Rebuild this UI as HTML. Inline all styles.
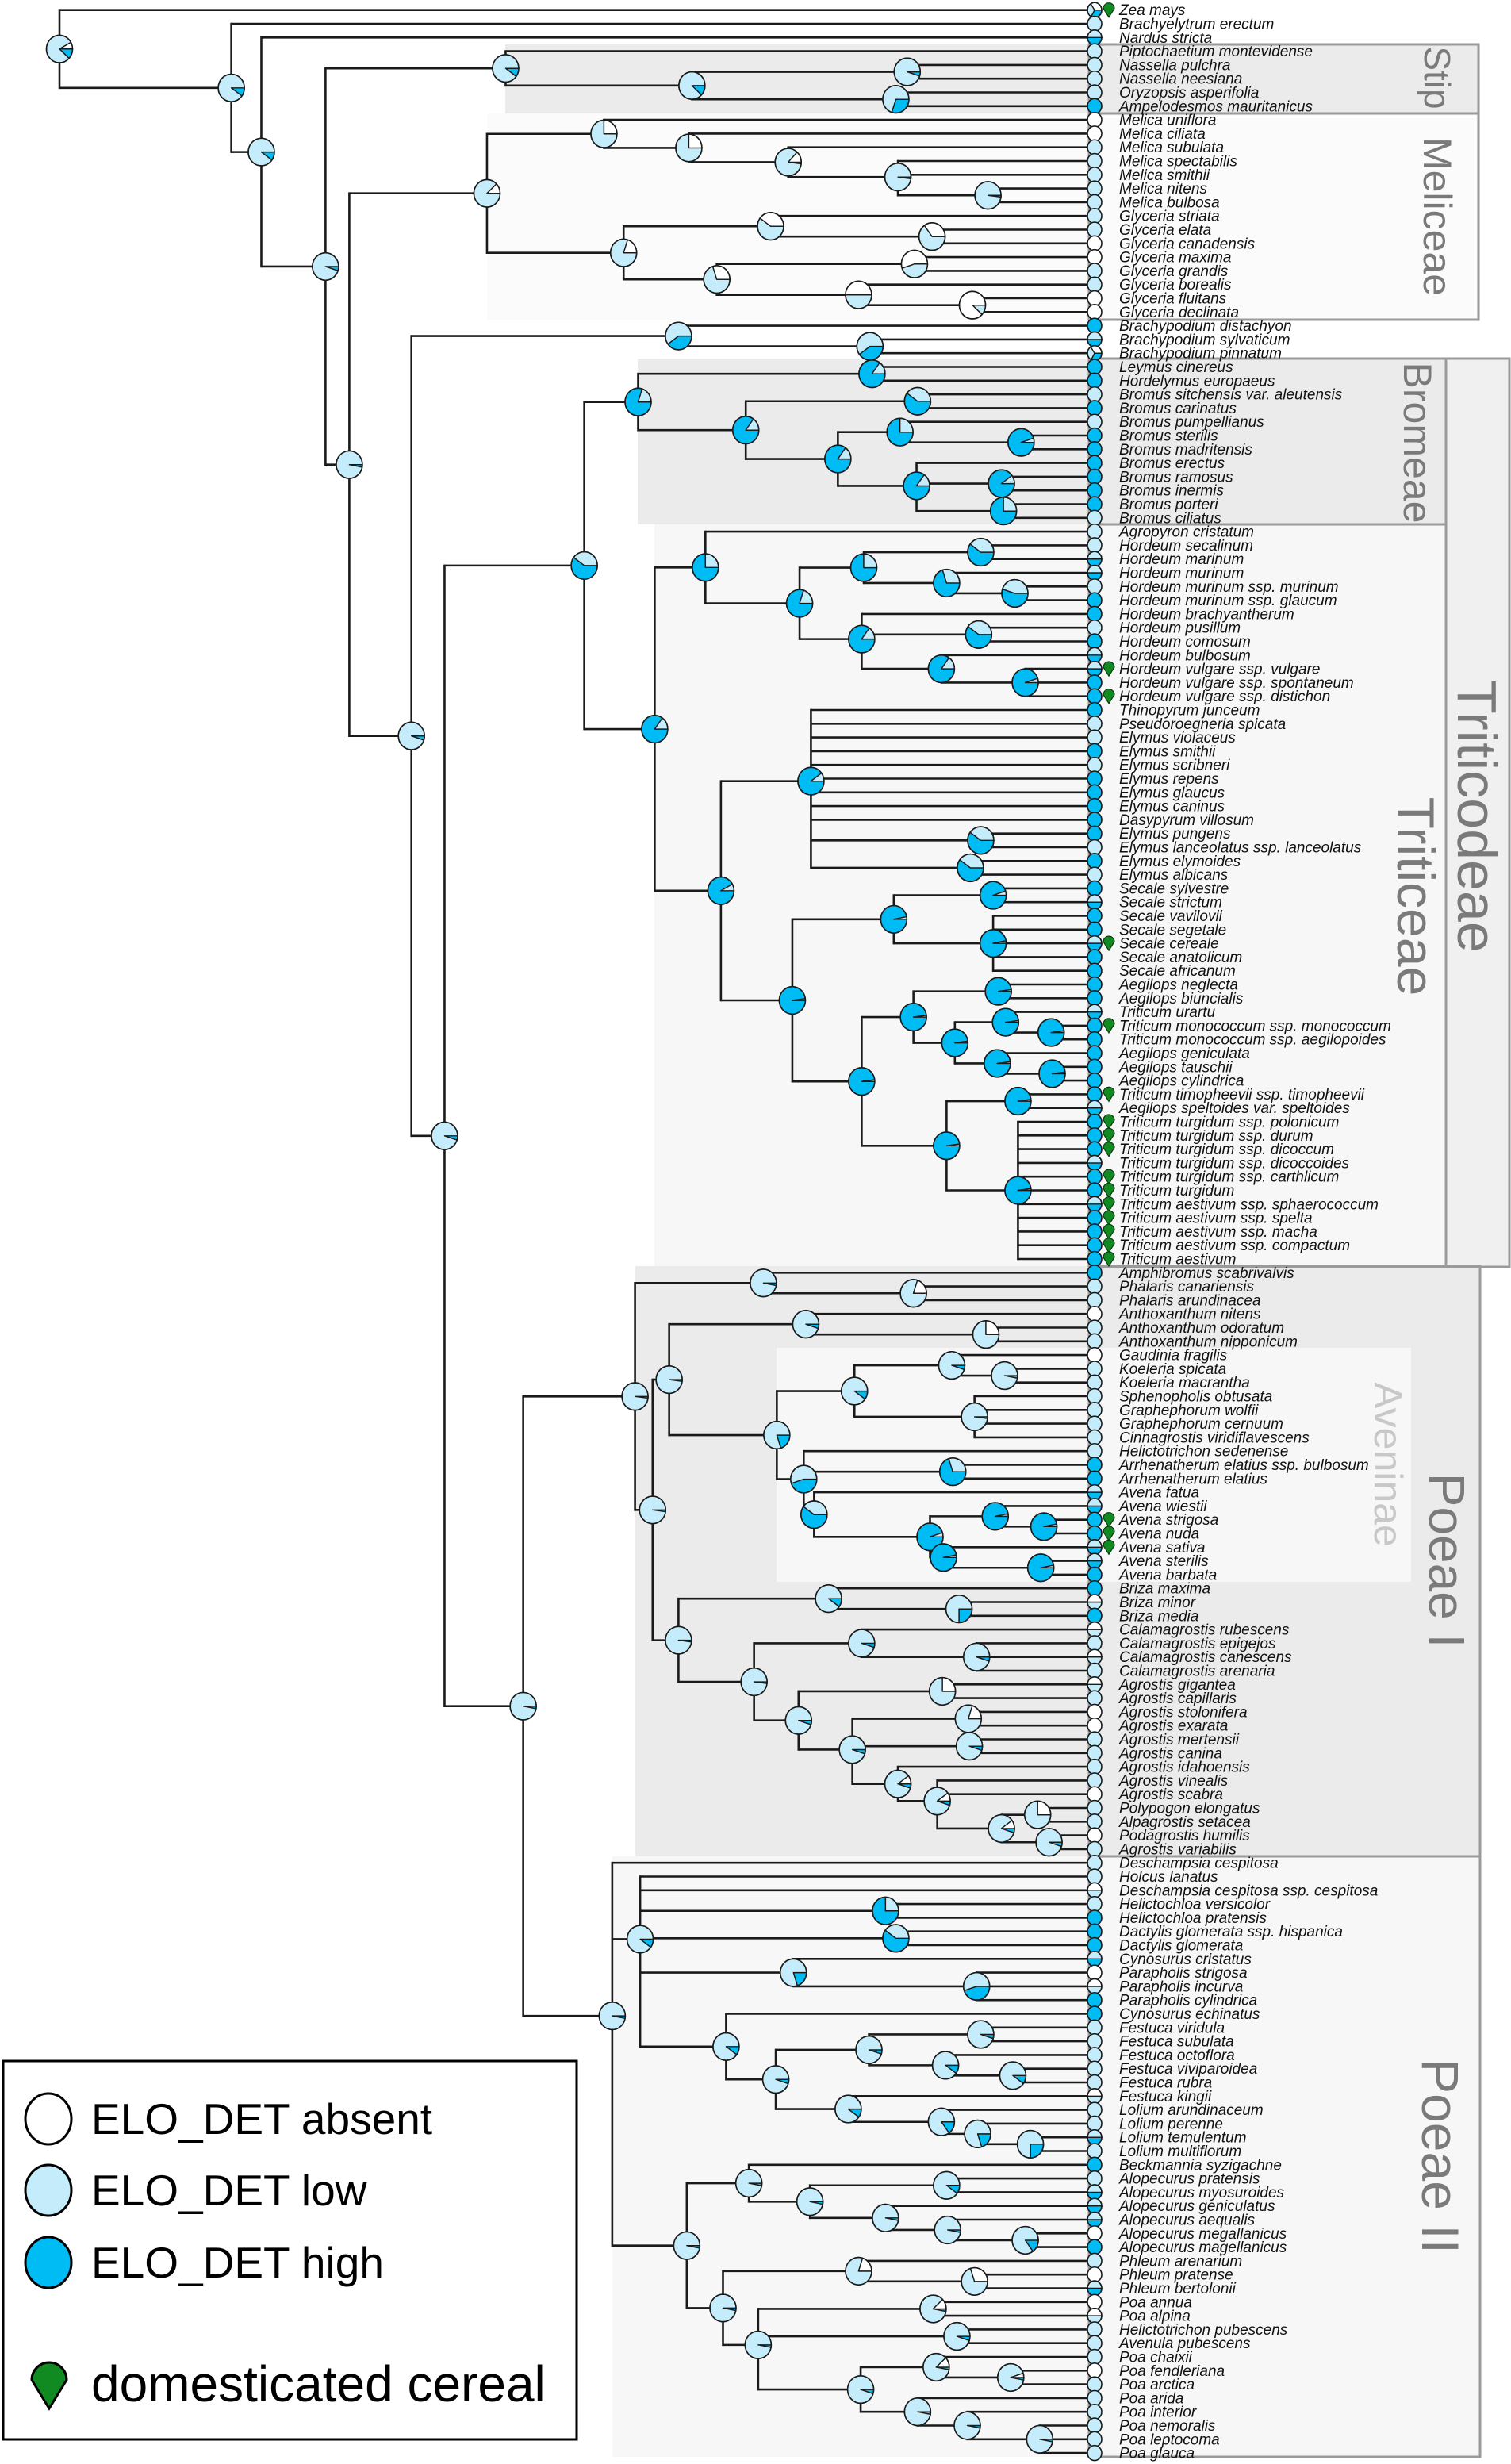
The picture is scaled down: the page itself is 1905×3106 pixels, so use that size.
<!DOCTYPE html>
<html><head><meta charset="utf-8"><title>ELO_DET phylogeny</title>
<style>
html,body{margin:0;padding:0;background:#fff;}
svg{display:block;}
.tip{font-family:"Liberation Sans",sans-serif;font-style:italic;font-size:19px;fill:#111;}
.clade{font-family:"Liberation Sans",sans-serif;fill:#7a7a7a;}
.leg{font-family:"Liberation Sans","DejaVu Sans",sans-serif;font-size:55px;fill:#000;}
</style></head>
<body>
<svg id="chart" width="1905" height="3106" viewBox="0 0 1905 3106" xmlns="http://www.w3.org/2000/svg">
<g id="bg">
  <rect x="637" y="56" width="1227" height="87" fill="#ebebeb"/>
  <rect x="614" y="143" width="1250" height="260" fill="#fbfbfb"/>
  <rect x="1823" y="452" width="80" height="1145" fill="#f0f0f0"/>
  <rect x="804" y="452" width="1019" height="209" fill="#ebebeb"/>
  <rect x="825" y="661" width="998" height="936" fill="#f7f7f7"/>
  <rect x="801" y="1596" width="1065" height="744" fill="#ebebeb"/>
  <rect x="979" y="1699" width="800" height="295" fill="#f7f7f7"/>
  <rect x="772" y="2340" width="1094" height="757" fill="#f7f7f7"/>
  <g fill="none" stroke="#9a9a9a" stroke-width="3">
    <rect x="1373" y="56" width="491" height="87"/>
    <rect x="1373" y="143" width="491" height="260"/>
    <rect x="1373" y="452" width="530" height="1145"/>
    <rect x="1373" y="452" width="450" height="209"/>
    <rect x="1373" y="661" width="450" height="936"/>
    <rect x="1373" y="1596" width="493" height="744"/>
    <rect x="1373" y="2340" width="493" height="757"/>
  </g>
</g>
<g id="branches"></g>
<g id="pies"></g>
<g id="tips"></g>
<g id="labels">
  <text class="clade" x="1812" y="98" font-size="46" text-anchor="middle" dominant-baseline="central" transform="rotate(90 1812 98)">Stip</text>
  <text class="clade" x="1812" y="273" font-size="50" text-anchor="middle" dominant-baseline="central" transform="rotate(90 1812 273)">Meliceae</text>
  <text class="clade" x="1787" y="558" font-size="50" text-anchor="middle" dominant-baseline="central" transform="rotate(90 1787 558)">Bromeae</text>
  <text class="clade" x="1862" y="1029" font-size="70" text-anchor="middle" dominant-baseline="central" transform="rotate(90 1862 1029)">Triticodeae</text>
  <text class="clade" x="1785" y="1130" font-size="66" text-anchor="middle" dominant-baseline="central" transform="rotate(90 1785 1130)">Triticeae</text>
  <text class="clade" x="1750" y="1846" font-size="50" text-anchor="middle" dominant-baseline="central" transform="rotate(90 1750 1846)" style="fill:#c8c8c8">Aveninae</text>
  <text class="clade" x="1824" y="1967" font-size="64" text-anchor="middle" dominant-baseline="central" transform="rotate(90 1824 1967)">Poeae I</text>
  <text class="clade" x="1816" y="2718" font-size="66" text-anchor="middle" dominant-baseline="central" transform="rotate(90 1816 2718)">Poeae II</text>
</g>
<g id="legend">
  <rect x="4" y="2598" width="723" height="477" fill="#fff" stroke="#000" stroke-width="3"/>
  <g>
    <ellipse cx="61" cy="2671" rx="29" ry="32" fill="#fff" stroke="#000" stroke-width="3"/>
    <text class="leg" x="115" y="2690">ELO_DET absent</text>
  </g>
  <g>
    <ellipse cx="61" cy="2761" rx="29" ry="32" fill="#c4ecfb" stroke="#000" stroke-width="3"/>
    <text class="leg" x="115" y="2780">ELO_DET low</text>
  </g>
  <g>
    <ellipse cx="61" cy="2852" rx="29" ry="32" fill="#00bcf5" stroke="#000" stroke-width="3"/>
    <text class="leg" x="115" y="2871">ELO_DET high</text>
  </g>
  <g>
    <path d="M 40,3000 A 22,22 0 1 1 84,3000 L 62,3036 Z" fill="#118a22" stroke="#000" stroke-width="3"/>
    <text class="leg" x="115" y="3027" style="font-size:64px">domesticated cereal</text>
  </g>
</g>
</svg>
<script>
const leafNames = ["Zea mays","Brachyelytrum erectum","Nardus stricta","Piptochaetium montevidense","Nassella pulchra","Nassella neesiana","Oryzopsis asperifolia","Ampelodesmos mauritanicus","Melica uniflora","Melica ciliata","Melica subulata","Melica spectabilis","Melica smithii","Melica nitens","Melica bulbosa","Glyceria striata","Glyceria elata","Glyceria canadensis","Glyceria maxima","Glyceria grandis","Glyceria borealis","Glyceria fluitans","Glyceria declinata","Brachypodium distachyon","Brachypodium sylvaticum","Brachypodium pinnatum","Leymus cinereus","Hordelymus europaeus","Bromus sitchensis var. aleutensis","Bromus carinatus","Bromus pumpellianus","Bromus sterilis","Bromus madritensis","Bromus erectus","Bromus ramosus","Bromus inermis","Bromus porteri","Bromus ciliatus","Agropyron cristatum","Hordeum secalinum","Hordeum marinum","Hordeum murinum","Hordeum murinum ssp. murinum","Hordeum murinum ssp. glaucum","Hordeum brachyantherum","Hordeum pusillum","Hordeum comosum","Hordeum bulbosum","Hordeum vulgare ssp. vulgare","Hordeum vulgare ssp. spontaneum","Hordeum vulgare ssp. distichon","Thinopyrum junceum","Pseudoroegneria spicata","Elymus violaceus","Elymus smithii","Elymus scribneri","Elymus repens","Elymus glaucus","Elymus caninus","Dasypyrum villosum","Elymus pungens","Elymus lanceolatus ssp. lanceolatus","Elymus elymoides","Elymus albicans","Secale sylvestre","Secale strictum","Secale vavilovii","Secale segetale","Secale cereale","Secale anatolicum","Secale africanum","Aegilops neglecta","Aegilops biuncialis","Triticum urartu","Triticum monococcum ssp. monococcum","Triticum monococcum ssp. aegilopoides","Aegilops geniculata","Aegilops tauschii","Aegilops cylindrica","Triticum timopheevii ssp. timopheevii","Aegilops speltoides var. speltoides","Triticum turgidum ssp. polonicum","Triticum turgidum ssp. durum","Triticum turgidum ssp. dicoccum","Triticum turgidum ssp. dicoccoides","Triticum turgidum ssp. carthlicum","Triticum turgidum","Triticum aestivum ssp. sphaerococcum","Triticum aestivum ssp. spelta","Triticum aestivum ssp. macha","Triticum aestivum ssp. compactum","Triticum aestivum","Amphibromus scabrivalvis","Phalaris canariensis","Phalaris arundinacea","Anthoxanthum nitens","Anthoxanthum odoratum","Anthoxanthum nipponicum","Gaudinia fragilis","Koeleria spicata","Koeleria macrantha","Sphenopholis obtusata","Graphephorum wolfii","Graphephorum cernuum","Cinnagrostis viridiflavescens","Helictotrichon sedenense","Arrhenatherum elatius ssp. bulbosum","Arrhenatherum elatius","Avena fatua","Avena wiestii","Avena strigosa","Avena nuda","Avena sativa","Avena sterilis","Avena barbata","Briza maxima","Briza minor","Briza media","Calamagrostis rubescens","Calamagrostis epigejos","Calamagrostis canescens","Calamagrostis arenaria","Agrostis gigantea","Agrostis capillaris","Agrostis stolonifera","Agrostis exarata","Agrostis mertensii","Agrostis canina","Agrostis idahoensis","Agrostis vinealis","Agrostis scabra","Polypogon elongatus","Alpagrostis setacea","Podagrostis humilis","Agrostis variabilis","Deschampsia cespitosa","Holcus lanatus","Deschampsia cespitosa ssp. cespitosa","Helictochloa versicolor","Helictochloa pratensis","Dactylis glomerata ssp. hispanica","Dactylis glomerata","Cynosurus cristatus","Parapholis strigosa","Parapholis incurva","Parapholis cylindrica","Cynosurus echinatus","Festuca viridula","Festuca subulata","Festuca octoflora","Festuca viviparoidea","Festuca rubra","Festuca kingii","Lolium arundinaceum","Lolium perenne","Lolium temulentum","Lolium multiflorum","Beckmannia syzigachne","Alopecurus pratensis","Alopecurus myosuroides","Alopecurus geniculatus","Alopecurus aequalis","Alopecurus megallanicus","Alopecurus magellanicus","Phleum arenarium","Phleum pratense","Phleum bertolonii","Poa annua","Poa alpina","Helictotrichon pubescens","Avenula pubescens","Poa chaixii","Poa fendleriana","Poa arctica","Poa arida","Poa interior","Poa nemoralis","Poa leptocoma","Poa glauca"];
const leafState = ("x l m l l l l h a a l l l l l l l a a l l a a h m x " +
  "h h l h l h h h h h h l " +
  "l l m m l h h l h m m h h h l l h l h h h h h l h l h m h h m h h " +
  "h h m h h h h h h m h h h m h h m h h h h h " +
  "l l a l l a l l l l l l l h h m m h h m m h h w h w l w l w l a a l l l l a l l a l l " +
  "l w l h h h m a w h h l l l l l w l l m l h l m m m a h l a m a w l l l a l l l l l l l").split(" ");
const domesticated = [1,49,51,69,75,80,82,83,84,86,87,88,89,90,91,92,111,112,113];

const nodeNames = ["root","N147","N166","N207","S1","S2","S3","S4","N221","M1","M2","M4","M5","M6","M7","M3","M8","M10","M9","M11","M12","M13","N260","B1","B2","N283","T0","Br0","Br1","Br2","Br3","Br4","Br5","Br6","Br7","Br8","Br9","T1","TrTop","H0","H1","H3","H4","H5","H2","H6","H7","H8","TrBot","E0","E1","E2","TS0","Sec0","Sec1","Sec2","TA0","TA1","TA3","TA4","TA5","TA6","TA7","TA8","TA2","TA9","TA10","N333","P1","Pt","Pt2","P1b","An","Anth","Anth2","Av0","K0","K1","K3","K2","AvA","Ar","AvB","AvC","AvD","AvE","AvG","AvH","Ag0","Bz","Bz2","Ag1","C0","C1","Ag2","A1","A2","A3","A4","A5","A6","A7","A8","A9","P2","Q1","Hl1","Hl2","Cy","Cy2","Fe","Fe1","Fe2","Fe4","Fe5","Fe6","Fe3","Fe7","Fe8","Fe9","Q2","Al0","Al1","Al2","Al3","Al4","Al5","Po0","Ph","Ph2","Po1","Po2","Po9","Po3","Po4","Po6","Po5","Po7","Po8"];
const nodeChildren = ["1,N147","2,N166","3,N207","S1,N221","4,S2","S3,S4","5,6","7,8","M1,N260","M2,M3","9,M4","10,M5","11,M6","12,13,M7","14,15","M8,M9","16,M10","17,18","M11,M12","19,20","21,M13","22,23","B1,N283","24,B2","25,26","T0,N333","Br0,T1","Br1,Br2","27,28","Br3,Br4","29,30","Br5,Br7","31,Br6","32,33","34,Br8,Br9","35,36","37,38","TrTop,TrBot","39,H0","H1,H2","H3,H4","40,41","42,H5","43,44","45,H6,H7","46,47","48,H8","49,50,51","E0,TS0","52,53,54,55,56,57,58,59,60,E1,E2","61,62","63,64","Sec0,TA0","Sec1,Sec2","65,66","67,68,69,70,71","TA1,TA2","TA3,TA4","72,73","TA5,TA7","74,TA6","75,76","77,TA8","78,79","TA9,TA10","80,81","82,83,84,85,86,87,88,89,90,91,92","P1,P2","Pt,P1b","93,Pt2","94,95","An,Ag0","Anth,Av0","96,Anth2","97,98","K0,AvA","K1,K2","99,K3","100,101","102,103,104,105","106,Ar,AvB","107,108","109,AvC","AvD,AvG","110,AvE","111,112","113,AvH","114,115","Bz,Ag1","116,Bz2","117,118","C0,Ag2","119,C1","120,121,122","A1,A2","123,124","A3,A4,A5","125,126","127,128","129,A6","130,131,A7","A8,A9","132,133","134,135","136,Q1,Q2","137,138,Hl1,Hl2,Cy,Fe","139,140","141,142","143,Cy2","144,145,146","147,Fe1","Fe2,Fe3","Fe4,Fe5","148,149","150,Fe6","151,152","153,Fe7","154,Fe8","155,Fe9","156,157","Al0,Po0","158,Al1","Al2,Al3","159,160","161,Al4","162,Al5","163,164","Ph,Po1","165,Ph2","166,167","Po2,Po9,Po3","168,169","170,171","Po4,Po5","172,Po6","173,174","175,Po7","176,Po8","177,178,179"];
const nodeDepth = [0,16.6,19.5,25.7,43.1,61.1,81.9,80.8,28.0,41.3,52.6,60.8,70.4,81.0,89.7,54.5,68.7,84.3,63.5,82.6,77.2,88.2,34.0,59.8,78.3,37.2,50.7,55.9,78.5,66.3,82.9,75.2,81.2,92.9,82.8,91.0,91.2,57.5,62.4,71.5,77.7,89.0,85.7,92.3,77.5,88.8,85.2,93.3,63.9,72.6,89.0,88.0,70.8,80.6,90.2,90.2,77.5,82.5,90.7,86.5,91.4,95.8,90.6,95.9,85.7,92.6,92.6,44.8,55.6,68.0,82.5,57.3,58.9,72.1,89.5,69.3,76.8,86.2,91.3,88.4,71.9,86.3,72.9,84.1,90.4,95.1,85.4,94.8,59.8,74.3,86.9,67.1,77.5,88.6,71.4,85.3,76.6,87.8,87.9,81.0,84.8,91.0,94.5,95.6,53.4,56.1,79.8,80.8,70.9,88.6,64.4,69.2,78.2,89.0,85.6,92.1,76.2,85.2,88.7,93.8,60.6,66.6,72.5,85.7,79.8,85.8,93.3,64.1,77.2,88.4,67.5,84.4,86.7,77.4,84.7,91.9,82.9,87.7,94.7];
const nodeHigh = [0.12,0.1,0.1,0.05,0.1,0.12,0.05,0.3,0.03,0,0,0,0.02,0.02,0.02,0,0,0,0,0,0,0,0.05,0.4,0.4,0.05,0.6,0.8,0.85,0.85,0.6,0.85,0.75,0.95,0.85,0.9,0.75,0.85,0.75,0.8,0.75,0.6,0.7,0.55,0.85,0.6,0.85,0.95,0.92,0.9,0.6,0.6,0.98,0.97,0.95,0.97,0.98,0.98,0.98,0.98,0.98,0.98,0.98,0.98,0.98,0.98,0.98,0.03,0.02,0.03,0,0.02,0.02,0.05,0,0.2,0.1,0.05,0.03,0.02,0.45,0.7,0.6,0.95,0.97,0.97,0.97,0.97,0.02,0.1,0.25,0.02,0.05,0.05,0.05,0,0.05,0,0.05,0.05,0.05,0.05,0,0.05,0.03,0.1,0.75,0.6,0.2,0.45,0.1,0.05,0.05,0.05,0.1,0.1,0.1,0.15,0.2,0.25,0.03,0.03,0.03,0.1,0.03,0.03,0.15,0.03,0,0,0.03,0.03,0.05,0.05,0.03,0.03,0.03,0.03,0.03];
const nodeLow = [0.8,0.9,0.9,0.95,0.9,0.88,0.95,0.7,0.97,0.88,0.75,0.75,0.85,0.98,0.98,0.8,0.6,0.65,0.7,0.45,0.5,0.12,0.95,0.6,0.6,0.95,0.4,0.2,0.15,0.15,0.4,0.15,0.25,0.05,0.15,0.1,0.25,0.15,0.25,0.2,0.25,0.4,0.3,0.45,0.15,0.4,0.15,0.05,0.08,0.1,0.4,0.4,0.02,0.03,0.05,0.03,0.02,0.02,0.02,0.02,0.02,0.02,0.02,0.02,0.02,0.02,0.02,0.97,0.98,0.97,0.8,0.98,0.98,0.95,0.75,0.8,0.9,0.95,0.97,0.98,0.55,0.3,0.4,0.05,0.03,0.03,0.03,0.03,0.98,0.9,0.75,0.98,0.95,0.95,0.95,0.75,0.95,0.8,0.95,0.85,0.85,0.85,0.75,0.95,0.97,0.9,0.25,0.4,0.8,0.55,0.9,0.95,0.95,0.95,0.9,0.9,0.9,0.85,0.8,0.75,0.97,0.97,0.97,0.9,0.97,0.97,0.85,0.97,0.8,0.7,0.97,0.85,0.95,0.95,0.85,0.92,0.97,0.97,0.97];

const stateFractions = {h:[1,0,0], l:[0,1,0], a:[0,0,1], m:[0.5,0.5,0], w:[0,0.5,0.5], x:[0.33,0.33,0.34]};
const COL_HIGH = "#00bcf5", COL_LOW = "#c4ecfb", COL_ABS = "#ffffff";
const TIP_X = 1380;
function xScale(d){ return 75 + d * 13.05; }
function yLeaf(i){ return 12.7 + (i - 1) * 17.3; }

const NS = "http://www.w3.org/2000/svg";
function mk(tag, attrs, parent){
  const el = document.createElementNS(NS, tag);
  for (const k in attrs) el.setAttribute(k, attrs[k]);
  parent.appendChild(el);
  return el;
}
const idx = {};
nodeNames.forEach((n,i)=>{ idx[n]=i; });
const yMemo = {};
function isLeaf(c){ return /^\d+$/.test(c); }
function posOf(c){
  if (isLeaf(c)) return {x: TIP_X, y: yLeaf(+c)};
  return {x: xScale(nodeDepth[idx[c]]), y: nodeY(c)};
}
function nodeY(n){
  if (yMemo[n] !== undefined) return yMemo[n];
  const ch = nodeChildren[idx[n]].split(",");
  let s = 0;
  ch.forEach(c => { s += posOf(c).y; });
  yMemo[n] = s / ch.length;
  return yMemo[n];
}

function drawPie(parent, cx, cy, r, fr, name){
  const g = mk("g", {}, parent);
  
  
  const cols = [COL_HIGH, COL_LOW, COL_ABS];
  const nz = fr.filter(f => f > 0.001).length;
  if (nz <= 1) {
    const k = fr.findIndex(f => f > 0.001);
    mk("ellipse", {cx:cx, cy:cy, rx:r, ry:r*1.05, fill:cols[k<0?1:k], stroke:"#1a1a1a", "stroke-width":1.6}, g);
    return;
  }
  let a0 = 0;
  fr.forEach((f, k) => {
    if (f <= 0.001) return;
    const a1 = a0 + f * Math.PI * 2;
    const x0 = cx + r*Math.cos(a0), y0 = cy + r*1.05*Math.sin(a0);
    const x1 = cx + r*Math.cos(a1), y1 = cy + r*1.05*Math.sin(a1);
    const large = (a1 - a0) > Math.PI ? 1 : 0;
    mk("path", {d:`M${cx},${cy} L${x0},${y0} A${r},${r*1.05} 0 ${large} 1 ${x1},${y1} Z`, fill:cols[k], stroke:"#1a1a1a", "stroke-width":1.4, "stroke-linejoin":"round"}, g);
    a0 = a1;
  });
  mk("ellipse", {cx:cx, cy:cy, rx:r, ry:r*1.05, fill:"none", stroke:"#1a1a1a", "stroke-width":1.6}, g);
}

const gB = document.getElementById("branches");
const gP = document.getElementById("pies");
const gT = document.getElementById("tips");

nodeNames.forEach((n, i) => {
  const x = xScale(nodeDepth[i]);
  const ch = nodeChildren[i].split(",").map(posOf);
  const ys = ch.map(p => p.y);
  const v = mk("line", {x1:x, x2:x, y1:Math.min(...ys), y2:Math.max(...ys), stroke:"#1a1a1a", "stroke-width":2.6, "stroke-linecap":"square"}, gB);
  
  
  ch.forEach(p => {
    const h = mk("line", {x1:x, x2:p.x, y1:p.y, y2:p.y, stroke:"#1a1a1a", "stroke-width":2.6}, gB);
    
    
  });
});

nodeNames.forEach((n, i) => {
  const h = nodeHigh[i], l = nodeLow[i];
  const a = Math.max(0, 1 - h - l);
  drawPie(gP, xScale(nodeDepth[i]), nodeY(n), 16.5, [h, l, a], 'node-pie-' + n);
});

leafNames.forEach((name, k) => {
  const i = k + 1, y = yLeaf(i);
  drawPie(gT, TIP_X, y, 9, stateFractions[leafState[k]] || [0,1,0], 'tip-state-' + i);
  const t = mk("text", {class:"tip", x:1411, y:y+6.5}, gT);
  t.textContent = name;
  
  
  if (domesticated.includes(i)) {
    const dx = 1398;
    const d = mk("path", {d:`M${dx-7},${y-2} A7,7 0 1 1 ${dx+7},${y-2} L${dx},${y+9} Z`, fill:"#118a22", stroke:"#0a3a10", "stroke-width":1.2}, gT);
    
    
  }
});
</script>
</body></html>
